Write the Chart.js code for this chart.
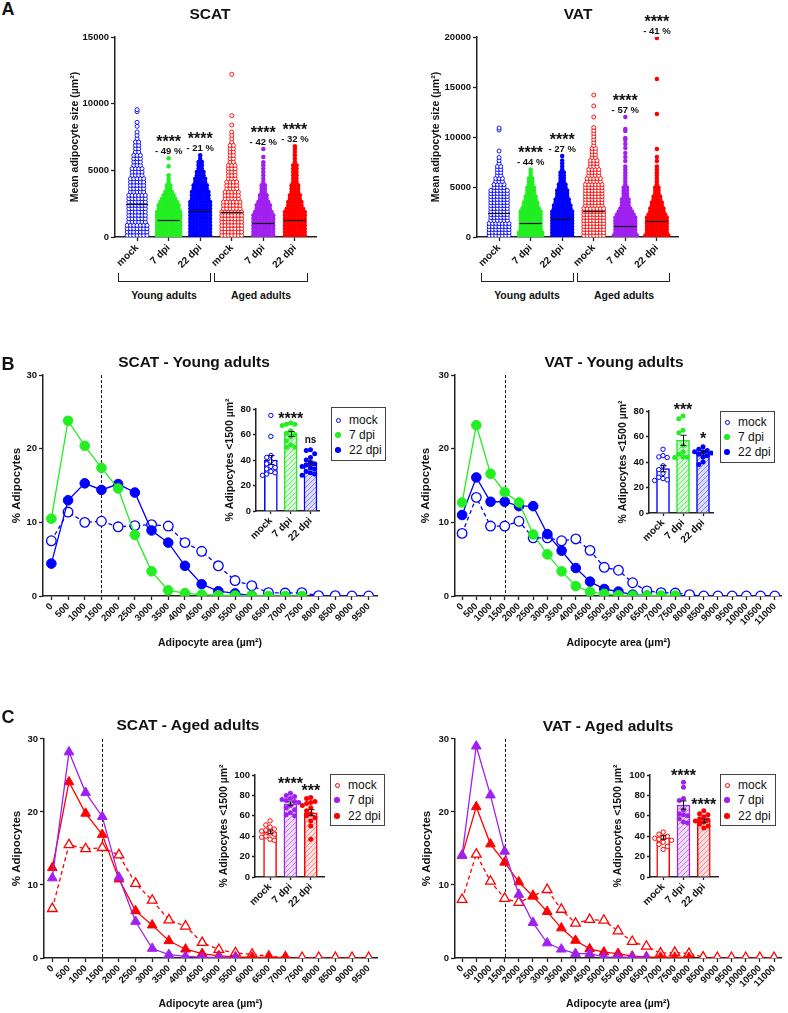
<!DOCTYPE html>
<html>
<head>
<meta charset="utf-8">
<title>Adipocyte size after infection</title>
<script src="https://cdn.jsdelivr.net/npm/chart.js@4.4.1/dist/chart.umd.min.js"></script>
<style>
  body { margin: 0; width: 788px; height: 1013px; position: relative; background: #fff; overflow: hidden;
         font-family: "Liberation Sans", Arial, sans-serif; color: #111; }
  canvas { position: absolute; }
  .t { position: absolute; transform: translate(-50%, -50%); font-weight: bold; white-space: nowrap; line-height: 1; z-index: 6; }
  .title { font-size: 15.5px; }
  .letter { font-size: 18px; }
  .grp { font-size: 10.5px; }
  .brk { position: absolute; height: 8px; border: 1.3px solid #222; border-top: none; }
  .leg { position: absolute; border: 1.5px solid #444; background: #fff; font-size: 12px; z-index: 5; box-sizing: border-box; }
  .leg div { position: absolute; left: 17px; line-height: 1; transform: translateY(-50%); white-space: nowrap; }
  .leg i { position: absolute; left: -13px; top: 50%; border-radius: 50%; box-sizing: border-box; }
</style>
</head>
<body>
<script>
// ---------- data ----------
const groupsA = ['mock', '7 dpi', '22 dpi', 'mock', '7 dpi', '22 dpi'];
const colorsA = ['#0000ff', '#22ee22', '#0000ff', '#ff0000', '#a020f0', '#ff0000'];
const openA = [true, false, false, true, false, false];

// panel A, SCAT: dots per 250 µm² row (from 0 up) + single high cells
const scatYMock = [7,7,7,7,6,6,6,6,6,6,6,6,6,5,5,5,5,5,4,4,4,3,3,3,3,2,2,2,2,1,1,1];
const scatY7 = [8,8,8,8,8,8,8,8,7,7,6,5,4,3,2,2,1,1,1];
const scatY22 = [7,7,7,7,7,7,7,7,7,7,7,6,6,6,5,5,4,4,3,3,2,2,2,1,1];
const scatAMock = [7,7,7,7,7,7,7,7,6,6,6,5,5,5,4,4,4,3,3,3,3,3,2,2,2,2,2,2,1,1,1,1];
const scatA7 = [7,7,7,7,7,7,7,6,5,5,4,3,3,2,2,2,1,1,1,1,1,1];
const scatA22 = [7,7,7,7,7,7,7,7,6,5,5,4,4,3,3,3,2,2,2,2,2,2,1,1,1,1];
const scatHigh = [[8300, 8600, 9400, 9550], [5300, 5900], [], [8400, 9100, 12200], [5600, 6000, 6600], [6600, 6800]];
const scatMeans = [2460, 1250, 1940, 1860, 1080, 1280];
const scatStars = ['', '****', '****', '', '****', '****'];
const scatPct = ['', '- 49 %', '- 21 %', '', '- 42 %', '- 32 %'];

// panel A, VAT: dots per 300 µm² row
const vatYMock = [7,7,7,7,7,6,6,6,6,6,6,6,6,6,6,6,4,4,3,3,2,2,2,2,1,1,1];
const vatY7 = [8,8,7,7,7,7,7,7,7,6,5,5,4,4,3,3,3,2,2,2,1,1,1];
const vatY22 = [7,7,7,7,7,7,7,7,7,6,6,5,5,4,4,4,3,3,2,2,2,2,1,1,1,1];
const vatAMock = [7,7,7,7,7,7,7,7,7,7,6,6,6,6,6,6,6,6,5,5,4,4,4,3,3,3,2,2,2,2,1,1,1,1,1,1,1];
const vatA7 = [8,7,7,7,7,7,7,6,5,4,3,3,3,2,2,2,2,1,1,1,1,1,1,1];
const vatA22 = [8,7,7,7,7,7,7,6,5,5,4,4,3,3,2,2,2,1,1,1,1,1,1,1];
const vatHigh = [[8600, 10700, 10900], [], [8100], [12000, 13100, 14200],
                 [7600, 8000, 8400, 8900, 9300, 9700, 9900, 10600, 10800, 12000],
                 [7600, 8000, 8800, 12300, 15800, 19900]];
const vatMeans = [2440, 1370, 1770, 2640, 1140, 1570];
const vatStars = ['', '****', '****', '', '****', '****'];
const vatPct = ['', '- 44 %', '- 27 %', '', '- 57 %', '- 41 %'];

// panels B and C: % adipocytes per area class
const areasScat = ['0','500','1000','1500','2000','2500','3000','3500','4000','4500','5000',
                   '5500','6000','6500','7000','7500','8000','8500','9000','9500'];
const areasVat = areasScat.concat(['10000', '10500', '11000']);

const bsMock = [7.5, 11.4, 10.0, 10.15, 9.4, 9.55, 9.7, 9.5, 7.25, 6.07, 4.1, 2.1, 1.4, 0.45, 0.4, 0.45, 0.05, 0.05, 0, 0];
const bs7 = [10.5, 23.8, 20.4, 17.4, 14.6, 8.3, 3.35, 0.77, 0.4, 0.2, 0.1, 0.05, 0.05, 0, 0, 0];
const bs22 = [4.4, 13.0, 15.3, 14.4, 15.2, 14.05, 8.9, 7.25, 4.1, 1.6, 0.65, 0.35, 0.05];

const bvMock = [8.5, 13.4, 9.5, 9.5, 10.15, 7.9, 7.9, 7.5, 7.75, 6.2, 3.9, 3.5, 1.8, 0.7, 0.45, 0.4, 0.18, 0, 0, 0, 0, 0, 0];
const bv7 = [12.7, 23.2, 16.6, 14.1, 12.7, 8.35, 5.65, 3.35, 1.35, 0.55, 0.3, 0.1, 0.05, 0.05, 0.05, 0.05];
const bv22 = [11.0, 16.1, 12.8, 12.8, 12.2, 12.2, 8.4, 6.15, 3.8, 1.95, 0.95, 0.6, 0.18, 0.05];

const csMock = [6.75, 15.5, 14.95, 15.1, 14.1, 10.2, 7.9, 5.2, 4.35, 2.1, 1.15, 0.7, 0.5, 0.23, 0.1, 0.05, 0.05, 0.05, 0.05, 0.05];
const cs7 = [10.95, 28.2, 22.65, 19.35, 11.05, 5.0, 1.3, 0.45, 0.23, 0.1, 0.05, 0.05];
const cs22 = [12.35, 24.1, 19.8, 16.9, 10.8, 6.45, 4.5, 2.35, 1.2, 0.6, 0.3, 0.15, 0.1, 0.05, 0.05];

const cvMock = [8.0, 14.2, 10.5, 8.15, 7.6, 8.5, 9.35, 6.65, 4.75, 5.25, 5.15, 3.7, 2.25, 1.6, 0.65, 0.75, 0.6, 0.1, 0.05, 0.05, 0.05, 0.05, 0.05];
const cv7 = [14.05, 29.0, 22.3, 14.6, 8.7, 4.85, 2.05, 1.2, 0.6, 0.6, 0.15, 0.1, 0.1, 0.05];
const cv22 = [14.05, 20.7, 15.6, 13.1, 10.4, 8.45, 6.35, 4.1, 2.4, 1.25, 0.8, 0.6, 0.25, 0.15, 0.1, 0.1, 0.05];

// insets: % adipocytes < 1500 µm² per animal
const insetGroups = ['mock', '7 dpi', '22 dpi'];
const syMock = [75, 58.5, 43.5, 42, 39, 37, 35, 34, 33, 31, 30, 29, 28];
const sy7 = [69, 68, 68, 67, 63, 61, 60, 58, 55, 52, 50, 50];
const sy22 = [48, 47.5, 45, 42, 40, 38, 37, 36, 35, 34, 33, 31, 30, 29, 28];
const syMean = [40, 60.4, 37.5], sySem = [3.5, 2, 1.6];

const vyMock = [50, 45, 44, 43.5, 37, 34, 31, 28, 27, 26, 25.5];
const vy7 = [76, 74, 65, 63, 53, 48, 46, 44, 44, 43.5];
const vy22 = [52, 50, 49, 48, 48, 47, 46, 45, 44, 40, 38];
const vyMean = [34.8, 57, 47.5], vySem = [2.5, 4, 1.3];

const saMock = [55, 51, 49, 47, 46, 45, 43, 42, 40, 39, 37, 36];
const sa7 = [82, 80, 79, 77, 76, 75, 74, 73, 70, 68, 66, 63, 61, 60];
const sa22 = [78, 77, 74, 73, 72, 70, 68, 65, 62, 60, 58, 55, 50, 37];
const saMean = [44.3, 71.8, 63], saSem = [1.8, 1.8, 3];

const vaMock = [44, 42, 40, 39, 38, 37, 36, 34, 32, 30, 27];
const va7 = [93, 88, 77, 75, 66, 62, 61, 60, 57, 54, 53];
const va22 = [65, 62, 61, 59, 57, 56, 55, 54, 52, 50, 48];
const vaMean = [38.7, 70.5, 55], vaSem = [1.7, 4, 1.7];

// ---------- common setup ----------
const AX = '#222';
const FONT = '"Liberation Sans", Arial, Helvetica, sans-serif';
Chart.defaults.font.family = FONT;
Chart.defaults.color = '#111';
Chart.defaults.animation = false;
Chart.defaults.responsive = false;
Chart.defaults.events = [];
Chart.defaults.plugins.legend.display = false;
Chart.defaults.plugins.tooltip.enabled = false;

// canvas sized so that the plot area lands on the given page box
function mount(area, pad, z) {
  const c = document.createElement('canvas');
  c.width = area.r - area.l + pad.l + pad.r;
  c.height = area.b - area.t + pad.t + pad.b;
  c.style.left = (area.l - pad.l) + 'px';
  c.style.top = (area.t - pad.t) + 'px';
  c.style.zIndex = z;
  document.body.appendChild(c);
  return c;
}

function yScale(o) {
  return {
    min: 0, max: o.max,
    afterBuildTicks: s => { s.ticks = o.ticks.map(v => ({value: v})); },
    afterFit: s => { s.width = o.w; s.paddingTop = 0; s.paddingBottom = 0; },
    grid: {display: true, drawOnChartArea: false, drawTicks: true, tickLength: 4, tickWidth: 1.3, color: AX},
    border: {display: true, color: AX, width: 1.5},
    ticks: {font: {size: 9.5, weight: 'bold'}, color: '#111', padding: 2, callback: v => String(v)},
    title: {display: true, text: o.title, color: '#111', font: {size: o.ts, weight: 'bold'},
            padding: {top: o.tx - o.ts * 0.6, bottom: 0}}
  };
}

function xGrid() {
  return {display: true, drawOnChartArea: false, drawTicks: true, tickLength: 4, tickWidth: 1.3, offset: false, color: AX};
}

function starText(ctx, text, x, y) {
  // y is the visual centre of the mark
  if (/^\*+$/.test(text)) {
    ctx.font = 'bold 16px ' + FONT;
    ctx.textBaseline = 'alphabetic';
    ctx.fillText(text, x, y + 8.5);
  } else {
    ctx.font = 'bold 10px ' + FONT;
    ctx.textBaseline = 'middle';
    ctx.fillText(text, x, y);
  }
}

// ---------- panel A: cell-size swarms ----------
const XA_MIN = 0.3, XA_MAX = 6.67;

function swarmPoints(rows, high, bin, g, step) {
  const pts = [];
  rows.forEach((n, i) => {
    for (let j = 0; j < n; j++) pts.push({x: g + (j - (n - 1) / 2) * step, y: bin * (i + 0.5)});
  });
  high.forEach(v => pts.push({x: g, y: v}));
  return pts;
}

function groupMarks(means, stars, pct) {
  return {
    id: 'groupMarks',
    afterDatasetsDraw(ch) {
      const {ctx} = ch, xs = ch.scales.x, ys = ch.scales.y;
      ctx.save();
      ctx.strokeStyle = '#111';
      ctx.fillStyle = '#111';
      ctx.lineWidth = 1.2;
      ctx.textAlign = 'center';
      means.forEach((m, g) => {
        const x = xs.getPixelForValue(g + 1), y = Math.round(ys.getPixelForValue(m)) + 0.5;
        ctx.beginPath(); ctx.moveTo(x - 11, y); ctx.lineTo(x + 11, y); ctx.stroke();
        if (!stars[g]) return;
        const top = ys.getPixelForValue(Math.max(...ch.data.datasets[g].data.map(p => p.y)));
        starText(ctx, stars[g], x, top - 20);
        ctx.font = 'bold 9.5px ' + FONT;
        ctx.textBaseline = 'middle';
        ctx.fillText(pct[g], x, top - 7);
      });
      ctx.restore();
    }
  };
}

function swarmChart(area, o) {
  const pad = {l: 60, r: 10, t: 32, b: 40};
  const c = mount(area, pad, 1);
  const step = 3.3 / ((area.r - area.l) / (XA_MAX - XA_MIN));
  new Chart(c, {
    type: 'scatter',
    data: {
      datasets: o.rows.map((rows, g) => ({
        data: swarmPoints(rows, o.high[g], o.bin, g + 1, step),
        pointRadius: openA[g] ? 2 : 2.25,
        pointBackgroundColor: openA[g] ? '#fff' : colorsA[g],
        pointBorderColor: colorsA[g],
        pointBorderWidth: openA[g] ? 0.9 : 0
      }))
    },
    options: {
      layout: {padding: {left: 0, right: pad.r, top: pad.t, bottom: 0}},
      scales: {
        x: {
          type: 'linear', min: XA_MIN, max: XA_MAX,
          afterBuildTicks: s => { s.ticks = groupsA.map((_, i) => ({value: i + 1})); },
          afterFit: s => { s.height = pad.b; s.paddingLeft = 0; s.paddingRight = 0; },
          grid: xGrid(),
          border: {display: true, color: AX, width: 1.5},
          ticks: {font: {size: 10, weight: 'bold'}, color: '#111', minRotation: 45, maxRotation: 45,
                  autoSkip: false, padding: 1, callback: v => groupsA[v - 1]}
        },
        y: yScale({max: o.max, ticks: o.ticks, w: pad.l, title: 'Mean adipocyte size (µm²)', ts: 10.5,
                   tx: o.titleX - (area.l - pad.l)})
      }
    },
    plugins: [groupMarks(o.means, o.stars, o.pct)]
  });
}

swarmChart({l: 115, t: 37, r: 316, b: 237}, {
  rows: [scatYMock, scatY7, scatY22, scatAMock, scatA7, scatA22], high: scatHigh, bin: 250,
  means: scatMeans, stars: scatStars, pct: scatPct, max: 15000, ticks: [0, 5000, 10000, 15000], titleX: 75
});
swarmChart({l: 477, t: 37, r: 678, b: 237}, {
  rows: [vatYMock, vatY7, vatY22, vatAMock, vatA7, vatA22], high: vatHigh, bin: 300,
  means: vatMeans, stars: vatStars, pct: vatPct, max: 20000, ticks: [0, 5000, 10000, 15000, 20000], titleX: 436
});

// ---------- panels B and C: distributions ----------
function cutLine(label) {
  return {
    id: 'cutLine',
    beforeDatasetsDraw(ch) {
      const {ctx, chartArea} = ch;
      const x = Math.round(ch.scales.x.getPixelForValue(ch.data.labels.indexOf(label))) + 0.5;
      ctx.save();
      ctx.strokeStyle = '#111';
      ctx.lineWidth = 1;
      ctx.setLineDash([3, 2]);
      ctx.beginPath(); ctx.moveTo(x, chartArea.top); ctx.lineTo(x, chartArea.bottom); ctx.stroke();
      ctx.restore();
    }
  };
}

function lineChart(area, o) {
  const pad = {l: o.padL, r: o.padR, t: 6, b: o.padB};
  const c = mount(area, pad, 1);
  new Chart(c, {
    type: 'line',
    data: {
      labels: o.labels,
      datasets: o.series.map(s => ({
        data: s.data,
        borderColor: s.color,
        backgroundColor: s.open ? '#fff' : s.color,
        pointBackgroundColor: s.open ? '#fff' : s.color,
        pointBorderColor: s.color,
        pointBorderWidth: s.open ? 1.3 : 1,
        pointStyle: o.marker,
        pointRadius: o.r,
        borderWidth: 1.3,
        borderDash: s.open ? [4, 3] : [],
        tension: 0
      }))
    },
    options: {
      layout: {padding: {left: 0, right: pad.r, top: pad.t, bottom: 0}},
      scales: {
        x: {
          type: 'category', offset: true,
          afterFit: s => { s.height = pad.b; s.paddingLeft = 0; s.paddingRight = 0; },
          grid: xGrid(),
          border: {display: true, color: AX, width: 1.5},
          ticks: {font: {size: 9.5, weight: 'bold'}, color: '#111', minRotation: 45, maxRotation: 45,
                  autoSkip: false, padding: 1},
          title: {display: true, text: 'Adipocyte area (µm²)', color: '#111',
                  font: {size: 10.5, weight: 'bold'}, padding: 0}
        },
        y: yScale({max: 30, ticks: [0, 10, 20, 30], w: pad.l, title: '% Adipocytes', ts: 11.5,
                   tx: o.titleX - (area.l - pad.l)})
      }
    },
    plugins: [cutLine('1500')]
  });
}

// first dataset is drawn on top
lineChart({l: 43, t: 375, r: 377, b: 596}, {
  labels: areasScat, marker: 'circle', r: 4.8, padL: 43, padR: 8, padB: 53, titleX: 17,
  series: [{data: bs7, color: '#22ee22'}, {data: bs22, color: '#0000ff'}, {data: bsMock, color: '#0000ff', open: true}]
});
lineChart({l: 455, t: 375, r: 787, b: 596}, {
  labels: areasVat, marker: 'circle', r: 4.8, padL: 43, padR: 1, padB: 53, titleX: 426,
  series: [{data: bv7, color: '#22ee22'}, {data: bv22, color: '#0000ff'}, {data: bvMock, color: '#0000ff', open: true}]
});
lineChart({l: 44, t: 738, r: 377, b: 958}, {
  labels: areasScat, marker: 'triangle', r: 5.6, padL: 44, padR: 8, padB: 52, titleX: 17,
  series: [{data: cs7, color: '#a020f0'}, {data: cs22, color: '#ff0000'}, {data: csMock, color: '#ff0000', open: true}]
});
lineChart({l: 455, t: 738, r: 787, b: 958}, {
  labels: areasVat, marker: 'triangle', r: 5.6, padL: 43, padR: 1, padB: 52, titleX: 427,
  series: [{data: cv7, color: '#a020f0'}, {data: cv22, color: '#ff0000'}, {data: cvMock, color: '#ff0000', open: true}]
});

// ---------- insets ----------
function hatch(line, tint) {
  const c = document.createElement('canvas');
  c.width = c.height = 5;
  const x = c.getContext('2d');
  x.fillStyle = tint; x.fillRect(0, 0, 5, 5);
  x.strokeStyle = line; x.lineWidth = 0.9;
  x.beginPath();
  x.moveTo(0, 5); x.lineTo(5, 0);
  x.moveTo(-1, 1); x.lineTo(1, -1);
  x.moveTo(4, 6); x.lineTo(6, 4);
  x.stroke();
  return x.createPattern(c, 'repeat');
}

// spread animals sideways so dots do not sit on top of each other
function spread(vals, pxPerY, gap) {
  const placed = [];
  const cands = [0, -gap, gap, -2 * gap, 2 * gap];
  return vals.map(v => {
    let best = 0, bestD = -1;
    for (const dx of cands) {
      const d = Math.min(Infinity, ...placed.map(p => Math.hypot(p.dx - dx, (p.v - v) * pxPerY)));
      if (d >= gap) { best = dx; bestD = Infinity; break; }
      if (d > bestD) { bestD = d; best = dx; }
    }
    placed.push({v, dx: best});
    return best;
  });
}

function insetMarks(mean, sem, stars, starY) {
  return {
    id: 'insetMarks',
    afterDatasetsDraw(ch) {
      const {ctx} = ch, ys = ch.scales.y, xs = ch.scales.x;
      ctx.save();
      ctx.strokeStyle = '#111';
      ctx.fillStyle = '#111';
      ctx.lineWidth = 1;
      ctx.textAlign = 'center';
      mean.forEach((m, i) => {
        const x = Math.round(xs.getPixelForValue(i)) + 0.5;
        const y1 = ys.getPixelForValue(m - sem[i]), y2 = ys.getPixelForValue(m + sem[i]);
        ctx.beginPath();
        ctx.moveTo(x, y1); ctx.lineTo(x, y2);
        ctx.moveTo(x - 3, y1); ctx.lineTo(x + 3, y1);
        ctx.moveTo(x - 3, y2); ctx.lineTo(x + 3, y2);
        ctx.stroke();
        if (stars[i]) starText(ctx, stars[i], xs.getPixelForValue(i), ys.getPixelForValue(starY[i]));
      });
      ctx.restore();
    }
  };
}

function insetChart(area, o) {
  const pad = {l: area.l - o.left, r: 5, t: 12, b: 40};
  const c = mount(area, pad, 2);
  const pxY = (area.b - area.t) / o.max;
  const pxX = (area.r - area.l) / (o.xmax - o.xmin);
  const fills = ['#fff', hatch(o.hatch[0][0], o.hatch[0][1]), hatch(o.hatch[1][0], o.hatch[1][1])];
  const dots = o.vals.map((vals, g) => {
    const dx = spread(vals, pxY, 4.2);
    return {
      type: 'scatter', order: 1,
      data: vals.map((v, k) => ({x: g + dx[k] / pxX, y: v})),
      pointRadius: g === 0 ? 2.2 : 2.5,
      pointBackgroundColor: g === 0 ? '#fff' : o.colors[g],
      pointBorderColor: o.colors[g],
      pointBorderWidth: g === 0 ? 1 : 0
    };
  });
  new Chart(c, {
    type: 'bar',
    data: {
      datasets: [{
        type: 'bar', order: 2,
        data: o.mean.map((m, g) => ({x: g, y: m})),
        backgroundColor: fills, borderColor: o.colors, borderWidth: 1.5, barThickness: 13
      }].concat(dots)
    },
    options: {
      layout: {padding: {left: 0, right: pad.r, top: pad.t, bottom: 0}},
      scales: {
        x: {
          type: 'linear', min: o.xmin, max: o.xmax, offset: false,
          afterBuildTicks: s => { s.ticks = insetGroups.map((_, i) => ({value: i})); },
          afterFit: s => { s.height = pad.b; s.paddingLeft = 0; s.paddingRight = 0; },
          grid: Object.assign(xGrid(), {tickLength: 3}),
          border: {display: true, color: AX, width: 1.5},
          ticks: {font: {size: 10, weight: 'bold'}, color: '#111', minRotation: 45, maxRotation: 45,
                  autoSkip: false, padding: 1, callback: v => insetGroups[v]}
        },
        y: Object.assign(yScale({max: o.max, ticks: o.ticks, w: pad.l, title: '% Adipocytes <1500 µm²', ts: 10.5,
                                 tx: o.titleX - o.left}),
                         {grid: {display: true, drawOnChartArea: false, drawTicks: true, tickLength: 3, tickWidth: 1.3, color: AX}})
      }
    },
    plugins: [insetMarks(o.mean, o.sem, o.stars, o.starY)]
  });
}

const hatchBlue = ['#7777ff', '#dcdcff'], hatchGreen = ['#66e066', '#d8ffd8'];
const hatchPurple = ['#c070f0', '#f0dcff'], hatchRed = ['#ff7a7a', '#ffe0e0'];

insetChart({l: 256, t: 409, r: 319, b: 511}, {
  left: 216, titleX: 230, max: 80, ticks: [0, 20, 40, 60, 80], xmin: -0.75, xmax: 2.43,
  vals: [syMock, sy7, sy22], mean: syMean, sem: sySem, colors: ['#0000ff', '#22ee22', '#0000ff'],
  hatch: [hatchGreen, hatchBlue], stars: ['', '****', 'ns'], starY: [0, 74.7, 55.7]
});
insetChart({l: 649, t: 411, r: 713, b: 513}, {
  left: 609, titleX: 623, max: 80, ticks: [0, 20, 40, 60, 80], xmin: -0.7, xmax: 2.5,
  vals: [vyMock, vy7, vy22], mean: vyMean, sem: vySem, colors: ['#0000ff', '#22ee22', '#0000ff'],
  hatch: [hatchGreen, hatchBlue], stars: ['', '***', '*'], starY: [0, 83.4, 60.6]
});
insetChart({l: 255, t: 775, r: 324, b: 877}, {
  left: 210, titleX: 224, max: 100, ticks: [0, 20, 40, 60, 80, 100], xmin: -0.74, xmax: 2.65,
  vals: [saMock, sa7, sa22], mean: saMean, sem: saSem, colors: ['#ff0000', '#a020f0', '#ff0000'],
  hatch: [hatchPurple, hatchRed], stars: ['', '****', '***'], starY: [0, 94.4, 87.9]
});
insetChart({l: 650, t: 775, r: 718, b: 877}, {
  left: 605, titleX: 618, max: 100, ticks: [0, 20, 40, 60, 80, 100], xmin: -0.65, xmax: 2.7,
  vals: [vaMock, va7, va22], mean: vaMean, sem: vaSem, colors: ['#ff0000', '#a020f0', '#ff0000'],
  hatch: [hatchPurple, hatchRed], stars: ['', '****', '****'], starY: [0, 102.6, 73.8]
});

// ---------- text, brackets, legends ----------
function text(cls, str, x, y) {
  const d = document.createElement('div');
  d.className = 't ' + cls;
  d.textContent = str;
  d.style.left = x + 'px';
  d.style.top = y + 'px';
  document.body.appendChild(d);
}
function bracket(l, r, t) {
  const d = document.createElement('div');
  d.className = 'brk';
  d.style.left = l + 'px';
  d.style.width = (r - l) + 'px';
  d.style.top = t + 'px';
  document.body.appendChild(d);
}
function legend(l, t, w, h, colors, rows) {
  const box = document.createElement('div');
  box.className = 'leg';
  Object.assign(box.style, {left: l + 'px', top: t + 'px', width: w + 'px', height: h + 'px'});
  insetGroups.forEach((name, i) => {
    const row = document.createElement('div');
    row.style.top = rows[i] + 'px';
    row.textContent = name;
    const dot = document.createElement('i');
    const s = i === 0 ? 5 : 5.5;
    Object.assign(dot.style, {width: s + 'px', height: s + 'px', marginTop: (-s / 2) + 'px', left: (-11 - s / 2) + 'px',
      background: i === 0 ? '#fff' : colors[i], border: i === 0 ? '1.2px solid ' + colors[i] : 'none'});
    row.appendChild(dot);
    box.appendChild(row);
  });
  document.body.appendChild(box);
}

text('letter', 'A', 8, 9);
text('letter', 'B', 8, 364);
text('letter', 'C', 8, 717);
text('title', 'SCAT', 210, 14);
text('title', 'VAT', 578, 14);
text('title', 'SCAT - Young adults', 194, 362);
text('title', 'VAT - Young adults', 614, 362);
text('title', 'SCAT - Aged adults', 188, 725);
text('title', 'VAT - Aged adults', 608, 726);

bracket(118, 209, 273); bracket(214, 306, 273);
bracket(481, 572, 273); bracket(577, 668, 273);
text('grp', 'Young adults', 164, 295); text('grp', 'Aged adults', 261, 295);
text('grp', 'Young adults', 527, 295); text('grp', 'Aged adults', 624, 295);

legend(331, 407, 55, 54, ['#0000ff', '#22ee22', '#0000ff'], [12, 27, 42]);
legend(720, 411, 55, 52, ['#0000ff', '#22ee22', '#0000ff'], [10, 25, 40]);
legend(330, 774, 55, 52, ['#ff0000', '#a020f0', '#ff0000'], [10, 25, 41]);
legend(720, 774, 56, 52, ['#ff0000', '#a020f0', '#ff0000'], [10, 25, 41]);
</script>
</body>
</html>
